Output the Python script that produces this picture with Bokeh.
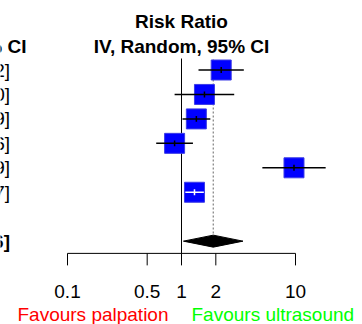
import numpy as np
from bokeh.plotting import figure
from bokeh.models import Range1d, ColumnDataSource
from bokeh.core.properties import value
from bokeh.embed import file_html
from bokeh.resources import INLINE

# ---- data -------------------------------------------------------------
ci_text = ["2.23 [1.41, 3.52]", "1.59 [0.87, 2.90]", "1.35 [1.02, 1.79]",
           "0.87 [0.60, 1.26]", "9.70 [5.12, 18.39]", "1.30 [1.08, 1.57]"]
rr = [2.23, 1.59, 1.35, 0.87, 9.70, 1.30]
lower = [1.41, 0.87, 1.02, 0.60, 5.12, 1.08]
upper = [3.52, 2.90, 1.79, 1.26, 18.39, 1.57]
total_rr = 1.90
total_lower = 1.04
total_upper = 3.46
total_text = "1.90 [1.04, 3.46]"
tick_values = [0.1, 0.5, 1, 2, 10]
tick_labels = ["0.1", "0.5", "1", "2", "10"]
title_lines = ["Risk Ratio", "IV, Random, 95% CI"]
left_label = "Favours palpation"
right_label = "Favours ultrasound"

# ---- layout constants (pixel geometry of the reference) -----------------
W, H = 362, 324          # plot size
OFF = 0                  # offset of the plot in the picture
X1 = 181                 # pixel of RR = 1
PPD = 114                # pixels per decade
Y0 = 69.5                # pixel of first row
ROW = 24.45              # pixels per row
BOX = 20                 # box size (px)


def px_to_x(px):
    return 10 ** ((px - X1) / PPD)


def px_to_i(py):
    return (py - Y0) / ROW


FONT = "Liberation Sans"
FS = "19px"
TXT = dict(text_font=value(FONT), text_font_size=FS, text_baseline="middle")

p = figure(width=W, height=H, x_axis_type="log",
           x_range=Range1d(px_to_x(OFF), px_to_x(OFF + W)),
           y_range=Range1d(px_to_i(OFF + H), px_to_i(OFF)),
           output_backend="svg", toolbar_location=None, min_border=0)
p.axis.visible = False
p.grid.visible = False
p.outline_line_color = None
p.background_fill_color = "white"
p.border_fill_color = "white"

n = len(rr)
rows = list(range(n))
total_row = n + 1
axis_row = total_row + 0.5

# reference line at 1 and dotted pooled line
p.segment(x0=[1], y0=[px_to_i(58)], x1=[1], y1=[axis_row],
          line_color="black", line_width=1)
p.segment(x0=[total_rr], y0=[px_to_i(59)], x1=[total_rr],
          y1=[total_row - 0.26], line_color="#888888", line_width=1.3,
          line_dash="2 2")

# boxes
p.scatter(x=rr, y=rows, marker="square", size=BOX, fill_color="#0000ff",
          line_color="#3c3ce6", line_width=1)

# CI lines (white when the CI lies inside the box)
span_px = [PPD * (np.log10(u) - np.log10(l)) for l, u in zip(lower, upper)]
line_cols = ["white" if s < BOX else "black" for s in span_px]
src = ColumnDataSource(dict(l=lower, u=upper, y=rows, rr=rr,
                            yt0=[r - 0.12 for r in rows],
                            yt1=[r + 0.12 for r in rows], c=line_cols))
p.segment(x0="l", y0="y", x1="u", y1="y", line_color="c", line_width=1.5,
          source=src)
p.segment(x0="rr", y0="yt0", x1="rr", y1="yt1", line_color="c",
          line_width=1.5, source=src)

# diamond
h = 6 / ROW
p.patch(x=[total_lower, total_rr, total_upper, total_rr],
        y=[total_row, total_row - h, total_row, total_row + h],
        fill_color="black", line_color="black", line_width=1)

# x axis drawn at the bottom of the rows
p.segment(x0=[tick_values[0]], y0=[axis_row], x1=[tick_values[-1]],
          y1=[axis_row], line_color="black", line_width=1)
p.segment(x0=tick_values, y0=[axis_row] * len(tick_values), x1=tick_values,
          y1=[axis_row + 12 / ROW] * len(tick_values), line_color="black",
          line_width=1)
p.text(x=tick_values, y=[px_to_i(290.5)] * len(tick_values), text=tick_labels,
       text_align="center", text_color="black", **TXT)

# titles
p.text(x=[1, 1], y=[px_to_i(21), px_to_i(46.3)], text=title_lines,
       text_font_style="bold", text_align="center", text_color="black", **TXT)
# left (cut) CI column
p.text(x=[px_to_x(26)], y=[px_to_i(46.3)], text=[title_lines[1]],
       text_font_style="bold", text_align="right", text_color="black", **TXT)
p.text(x=[px_to_x(9.5)] * n, y=rows, text=ci_text,
       text_align="right", text_color="black", **TXT)
p.text(x=[px_to_x(9.5)], y=[total_row], text=[total_text],
       text_font_style="bold", text_align="right", text_color="black", **TXT)

# favours labels
p.text(x=[px_to_x(168)], y=[px_to_i(313.7)], text=[left_label],
       text_align="right", text_color="#ff0000", **TXT)
p.text(x=[px_to_x(191)], y=[px_to_i(313.7)], text=[right_label],
       text_align="left", text_color="#00ff00", **TXT)

open("out.html", "w").write(file_html(p, INLINE))
